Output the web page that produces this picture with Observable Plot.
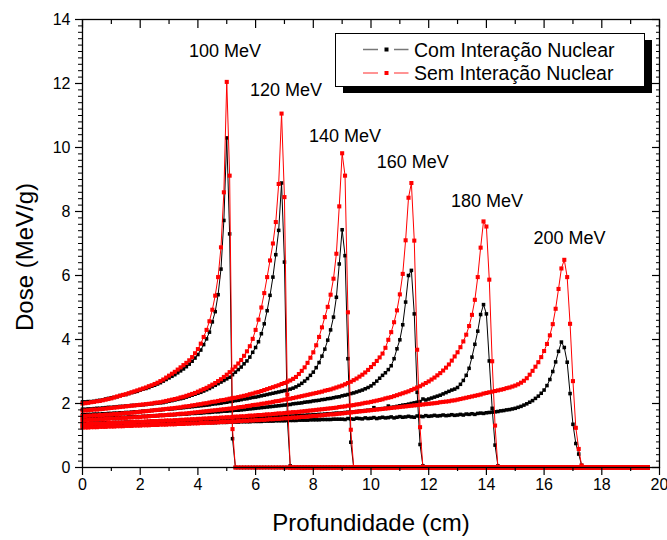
<!DOCTYPE html>
<html><head><meta charset="utf-8">
<script src="https://cdn.jsdelivr.net/npm/d3@7"></script>
<script src="https://cdn.jsdelivr.net/npm/@observablehq/plot@0.6"></script>
<style>
html,body{margin:0;padding:0;background:#fff;}
#chart{width:667px;height:540px;}
</style></head><body><div id="chart"></div>
<script>
// depth sampling of every series (cm)
const depthStep = 0.1;
const energyLabels = ["100 MeV","120 MeV","140 MeV","160 MeV","180 MeV","200 MeV"];
const labelDepth = [4.94, 7.05, 9.10, 11.45, 14.02, 16.88];
const labelDose  = [13.0, 11.79, 10.34, 9.55, 8.31, 7.15];
const xTicks = [0,2,4,6,8,10,12,14,16,18,20];
const yTicks = [0,2,4,6,8,10,12,14];

// "Sem Interação Nuclear" (red), dose MeV/g at depth = index*0.1 cm
const sem100 = [2.00,2.01,2.02,2.04,2.05,2.07,2.08,2.10,2.12,2.14,
2.16,2.19,2.22,2.24,2.27,2.29,2.32,2.35,2.38,2.41,
2.44,2.47,2.50,2.54,2.57,2.61,2.65,2.70,2.75,2.81,
2.87,2.93,2.99,3.06,3.13,3.20,3.27,3.35,3.45,3.57,
3.70,3.87,4.08,4.30,4.57,4.93,5.37,5.95,6.88,8.60,
12.05,9.12,1.20,0,
0,0,0,0,0,0,0,0,0,0, 0,0,0,0,0,0,0,0,0,0, 0,0,0,0,0,0,0,0,0,0, 0,0,0,0,0,0,0,0,0,0,
0,0,0,0,0,0,0,0,0,0, 0,0,0,0,0,0,0,0,0,0, 0,0,0,0,0,0,0,0,0,0, 0,0,0,0,0,0,0,0,0,0,
0,0,0,0,0,0,0,0,0,0, 0,0,0,0,0,0,0,0,0,0, 0,0,0,0,0,0,0,0,0,0, 0,0,0,0,0,0,0,0,0,0,
0,0,0,0,0,0,0,0,0,0, 0,0,0,0,0,0,0,0,0,0, 0,0,0];
const sem120 = [1.78,1.78,1.79,1.80,1.81,1.81,1.82,1.83,1.84,1.85,
1.86,1.87,1.88,1.89,1.90,1.91,1.92,1.93,1.94,1.95,
1.96,1.97,1.98,1.99,2.00,2.02,2.03,2.04,2.06,2.08,
2.10,2.12,2.14,2.16,2.19,2.21,2.24,2.27,2.30,2.33,
2.37,2.41,2.45,2.49,2.54,2.59,2.64,2.70,2.76,2.83,
2.90,2.98,3.06,3.15,3.25,3.36,3.49,3.63,3.79,4.02,
4.30,4.62,5.00,5.45,5.95,6.47,7.00,7.67,8.86,11.06,
8.45,2.28,0,
0,0,0,0,0,0,0,0,0,0, 0,0,0,0,0,0,0,0,0,0, 0,0,0,0,0,0,0,0,0,0, 0,0,0,0,0,0,0,0,0,0,
0,0,0,0,0,0,0,0,0,0, 0,0,0,0,0,0,0,0,0,0, 0,0,0,0,0,0,0,0,0,0, 0,0,0,0,0,0,0,0,0,0,
0,0,0,0,0,0,0,0,0,0, 0,0,0,0,0,0,0,0,0,0, 0,0,0,0,0,0,0,0,0,0, 0,0,0,0,0,0,0,0,0,0,
0,0,0,0];
const sem140 = [1.61,1.61,1.62,1.62,1.63,1.63,1.64,1.64,1.65,1.65,
1.66,1.67,1.67,1.68,1.69,1.70,1.70,1.71,1.72,1.73,
1.74,1.75,1.76,1.77,1.78,1.79,1.80,1.81,1.82,1.83,
1.84,1.85,1.86,1.87,1.88,1.90,1.91,1.92,1.94,1.95,
1.97,1.98,2.00,2.01,2.03,2.05,2.06,2.08,2.10,2.11,
2.13,2.15,2.17,2.18,2.20,2.22,2.24,2.26,2.29,2.31,
2.34,2.36,2.39,2.42,2.45,2.48,2.51,2.54,2.57,2.61,
2.64,2.68,2.72,2.77,2.83,2.92,3.02,3.13,3.27,3.43,
3.60,3.82,4.08,4.38,4.70,5.02,5.40,5.90,6.68,8.16,
9.82,9.12,4.85,1.18,0,
0,0,0,0,0,0,0,0,0,0, 0,0,0,0,0,0,0,0,0,0, 0,0,0,0,0,0,0,0,0,0, 0,0,0,0,0,0,0,0,0,0,
0,0,0,0,0,0,0,0,0,0, 0,0,0,0,0,0,0,0,0,0, 0,0,0,0,0,0,0,0,0,0, 0,0,0,0,0,0,0,0,0,0,
0,0,0,0,0,0,0,0,0,0, 0,0,0,0,0,0,0,0,0,0, 0,0];
const sem160 = [1.48,1.48,1.49,1.49,1.50,1.50,1.51,1.51,1.52,1.52,
1.53,1.53,1.54,1.54,1.55,1.55,1.56,1.56,1.57,1.57,
1.58,1.59,1.59,1.60,1.61,1.61,1.62,1.63,1.63,1.64,
1.65,1.65,1.66,1.67,1.68,1.68,1.69,1.70,1.71,1.72,
1.73,1.74,1.75,1.76,1.77,1.78,1.79,1.80,1.81,1.82,
1.83,1.84,1.85,1.86,1.88,1.89,1.90,1.92,1.93,1.95,
1.96,1.97,1.99,2.00,2.02,2.03,2.05,2.07,2.08,2.10,
2.12,2.14,2.15,2.17,2.19,2.21,2.23,2.25,2.27,2.29,
2.31,2.33,2.35,2.37,2.40,2.42,2.44,2.47,2.50,2.53,
2.56,2.60,2.64,2.68,2.73,2.78,2.84,2.90,2.97,3.05,
3.14,3.23,3.33,3.44,3.56,3.74,3.99,4.23,4.54,4.91,
5.41,6.05,7.10,8.43,8.89,7.09,3.68,1.26,0,
0,0,0,0,0,0,0,0,0,0, 0,0,0,0,0,0,0,0,0,0, 0,0,0,0,0,0,0,0,0,0, 0,0,0,0,0,0,0,0,0,0,
0,0,0,0,0,0,0,0,0,0, 0,0,0,0,0,0,0,0,0,0, 0,0,0,0,0,0,0,0,0,0, 0,0,0,0,0,0,0,0];
const sem180 = [1.35,1.35,1.36,1.36,1.37,1.37,1.37,1.38,1.38,1.39,
1.39,1.39,1.40,1.40,1.41,1.41,1.41,1.42,1.42,1.43,
1.43,1.43,1.44,1.44,1.45,1.45,1.45,1.46,1.46,1.47,
1.47,1.47,1.48,1.48,1.49,1.49,1.50,1.50,1.51,1.51,
1.52,1.52,1.53,1.53,1.54,1.54,1.55,1.55,1.56,1.56,
1.57,1.57,1.58,1.59,1.59,1.60,1.60,1.61,1.62,1.62,
1.63,1.64,1.64,1.65,1.66,1.66,1.67,1.68,1.69,1.69,
1.70,1.71,1.72,1.73,1.73,1.74,1.75,1.76,1.77,1.78,
1.79,1.80,1.81,1.82,1.83,1.84,1.85,1.86,1.87,1.89,
1.90,1.91,1.93,1.94,1.95,1.97,1.98,2.00,2.02,2.03,
2.05,2.07,2.09,2.11,2.13,2.16,2.18,2.20,2.23,2.26,
2.29,2.32,2.35,2.38,2.42,2.46,2.50,2.54,2.59,2.64,
2.69,2.75,2.81,2.88,2.95,3.03,3.12,3.22,3.34,3.47,
3.60,3.76,3.94,4.15,4.42,4.77,5.24,5.95,6.87,7.69,
7.53,5.87,3.32,1.31,0,
0,0,0,0,0,0,0,0,0,0, 0,0,0,0,0,0,0,0,0,0, 0,0,0,0,0,0,0,0,0,0, 0,0,0,0,0,0,0,0,0,0,
0,0,0,0,0,0,0,0,0,0, 0,0];
const sem200 = [1.25,1.25,1.25,1.26,1.26,1.26,1.27,1.27,1.27,1.28,
1.28,1.28,1.29,1.29,1.29,1.30,1.30,1.30,1.31,1.31,
1.31,1.32,1.32,1.32,1.33,1.33,1.33,1.34,1.34,1.34,
1.35,1.35,1.35,1.36,1.36,1.36,1.37,1.37,1.38,1.38,
1.38,1.39,1.39,1.40,1.40,1.40,1.41,1.41,1.42,1.42,
1.43,1.43,1.44,1.44,1.45,1.45,1.46,1.46,1.47,1.47,
1.48,1.48,1.49,1.49,1.50,1.51,1.51,1.52,1.52,1.53,
1.54,1.54,1.55,1.56,1.56,1.57,1.58,1.58,1.59,1.60,
1.61,1.61,1.62,1.63,1.64,1.65,1.66,1.66,1.67,1.68,
1.69,1.70,1.71,1.72,1.73,1.74,1.75,1.76,1.77,1.78,
1.79,1.80,1.81,1.82,1.83,1.84,1.85,1.86,1.87,1.88,
1.89,1.90,1.91,1.92,1.93,1.94,1.95,1.96,1.97,1.98,
1.99,2.00,2.01,2.02,2.04,2.05,2.06,2.07,2.09,2.10,
2.12,2.14,2.16,2.18,2.20,2.22,2.24,2.26,2.28,2.31,
2.33,2.35,2.37,2.39,2.41,2.43,2.45,2.48,2.50,2.53,
2.56,2.60,2.65,2.71,2.79,2.90,3.02,3.15,3.29,3.45,
3.64,3.86,4.13,4.48,4.96,5.58,6.22,6.49,5.95,4.49,
2.70,1.24,0.58,0.06,
0,0,0,0,0,0,0,0,0,0, 0,0,0,0,0,0,0,0,0,0, 0,0,0];

// "Com Interação Nuclear" (black)
const com100 = [2.05,2.05,2.06,2.06,2.07,2.09,2.10,2.11,2.14,2.16,
2.18,2.19,2.21,2.25,2.27,2.28,2.31,2.34,2.36,2.38,
2.42,2.45,2.47,2.50,2.54,2.57,2.61,2.65,2.70,2.75,
2.80,2.85,2.90,2.96,3.02,3.08,3.15,3.23,3.32,3.42,
3.53,3.67,3.84,4.02,4.23,4.55,4.87,5.40,6.20,7.72,
10.30,7.30,0.90,0,
0,0,0,0,0,0,0,0,0,0, 0,0,0,0,0,0,0,0,0,0, 0,0,0,0,0,0,0,0,0,0, 0,0,0,0,0,0,0,0,0,0,
0,0,0,0,0,0,0,0,0,0, 0,0,0,0,0,0,0,0,0,0, 0,0,0,0,0,0,0,0,0,0, 0,0,0,0,0,0,0,0,0,0,
0,0,0,0,0,0,0,0,0,0, 0,0,0,0,0,0,0,0,0,0, 0,0,0,0,0,0,0,0,0,0, 0,0,0,0,0,0,0,0,0,0,
0,0,0,0,0,0,0,0,0,0, 0,0,0,0,0,0,0,0,0,0, 0,0,0];
const com120 = [1.82,1.82,1.83,1.83,1.84,1.85,1.85,1.86,1.87,1.88,
1.88,1.89,1.90,1.91,1.91,1.92,1.93,1.94,1.94,1.95,
1.95,1.96,1.97,1.98,1.99,2.00,2.01,2.02,2.03,2.05,
2.07,2.09,2.11,2.13,2.15,2.17,2.20,2.23,2.26,2.29,
2.32,2.35,2.39,2.43,2.47,2.52,2.57,2.62,2.67,2.72,
2.77,2.82,2.90,2.98,3.06,3.14,3.24,3.33,3.45,3.60,
3.75,3.93,4.18,4.49,4.90,5.38,5.95,6.65,7.41,8.89,
6.42,1.50,0.05,
0,0,0,0,0,0,0,0,0,0, 0,0,0,0,0,0,0,0,0,0, 0,0,0,0,0,0,0,0,0,0, 0,0,0,0,0,0,0,0,0,0,
0,0,0,0,0,0,0,0,0,0, 0,0,0,0,0,0,0,0,0,0, 0,0,0,0,0,0,0,0,0,0, 0,0,0,0,0,0,0,0,0,0,
0,0,0,0,0,0,0,0,0,0, 0,0,0,0,0,0,0,0,0,0, 0,0,0,0,0,0,0,0,0,0, 0,0,0,0,0,0,0,0,0,0,
0,0,0,0];
const com140 = [1.65,1.65,1.66,1.66,1.67,1.67,1.67,1.68,1.68,1.69,
1.69,1.70,1.70,1.71,1.71,1.72,1.72,1.73,1.74,1.74,
1.75,1.76,1.76,1.77,1.78,1.79,1.79,1.80,1.81,1.82,
1.82,1.83,1.84,1.85,1.86,1.87,1.88,1.89,1.90,1.91,
1.92,1.93,1.94,1.95,1.96,1.98,1.99,2.00,2.01,2.03,
2.04,2.06,2.07,2.09,2.10,2.12,2.14,2.15,2.17,2.19,
2.20,2.22,2.24,2.26,2.28,2.30,2.32,2.34,2.36,2.38,
2.40,2.42,2.45,2.48,2.52,2.57,2.63,2.70,2.78,2.88,
2.98,3.12,3.28,3.48,3.70,3.98,4.30,4.70,5.32,6.36,
7.43,6.62,3.40,0.79,0,
0,0,0,0,0,0,0,0,0,0, 0,0,0,0,0,0,0,0,0,0, 0,0,0,0,0,0,0,0,0,0, 0,0,0,0,0,0,0,0,0,0,
0,0,0,0,0,0,0,0,0,0, 0,0,0,0,0,0,0,0,0,0, 0,0,0,0,0,0,0,0,0,0, 0,0,0,0,0,0,0,0,0,0,
0,0,0,0,0,0,0,0,0,0, 0,0,0,0,0,0,0,0,0,0, 0,0];
const com160 = [1.52,1.52,1.52,1.53,1.53,1.53,1.54,1.54,1.55,1.55,
1.55,1.56,1.56,1.57,1.57,1.57,1.58,1.58,1.59,1.59,
1.59,1.60,1.60,1.61,1.61,1.62,1.62,1.63,1.63,1.64,
1.64,1.65,1.65,1.66,1.66,1.67,1.67,1.68,1.69,1.69,
1.70,1.70,1.71,1.72,1.72,1.73,1.74,1.74,1.75,1.76,
1.76,1.77,1.78,1.79,1.79,1.80,1.81,1.82,1.83,1.84,
1.85,1.86,1.87,1.88,1.89,1.90,1.91,1.92,1.93,1.94,
1.95,1.96,1.97,1.99,2.00,2.01,2.02,2.04,2.05,2.06,
2.08,2.09,2.10,2.12,2.13,2.15,2.16,2.18,2.20,2.21,
2.24,2.26,2.28,2.31,2.33,2.36,2.39,2.42,2.46,2.50,
2.55,2.62,2.70,2.79,2.88,2.96,3.06,3.18,3.40,3.71,
3.99,4.46,5.17,6.00,6.16,4.80,2.35,0.72,0.05,
0,0,0,0,0,0,0,0,0,0, 0,0,0,0,0,0,0,0,0,0, 0,0,0,0,0,0,0,0,0,0, 0,0,0,0,0,0,0,0,0,0,
0,0,0,0,0,0,0,0,0,0, 0,0,0,0,0,0,0,0,0,0, 0,0,0,0,0,0,0,0,0,0, 0,0,0,0,0,0,0,0];
const com180 = [1.38,1.38,1.38,1.39,1.39,1.39,1.39,1.40,1.40,1.40,
1.40,1.41,1.41,1.41,1.41,1.42,1.42,1.42,1.42,1.43,
1.43,1.43,1.43,1.44,1.44,1.44,1.44,1.45,1.45,1.45,
1.45,1.46,1.46,1.46,1.47,1.47,1.47,1.47,1.48,1.48,
1.48,1.49,1.49,1.49,1.50,1.50,1.50,1.51,1.51,1.51,
1.52,1.52,1.52,1.53,1.53,1.53,1.54,1.54,1.55,1.55,
1.55,1.56,1.56,1.57,1.57,1.57,1.58,1.58,1.59,1.59,
1.60,1.60,1.61,1.61,1.62,1.62,1.63,1.63,1.64,1.64,
1.65,1.65,1.66,1.66,1.67,1.68,1.68,1.69,1.70,1.70,
1.71,1.72,1.73,1.73,1.74,1.75,1.76,1.77,1.78,1.79,
1.80,1.87,1.82,1.83,1.84,1.85,1.92,1.88,1.89,1.91,
1.93,1.95,1.96,1.98,2.00,2.02,2.04,2.06,2.14,2.11,
2.14,2.17,2.20,2.23,2.26,2.30,2.34,2.38,2.42,2.45,
2.50,2.60,2.72,2.88,3.10,3.45,3.85,4.26,4.78,5.09,
4.80,3.33,1.85,0.70,0.05,
0,0,0,0,0,0,0,0,0,0, 0,0,0,0,0,0,0,0,0,0, 0,0,0,0,0,0,0,0,0,0, 0,0,0,0,0,0,0,0,0,0,
0,0,0,0,0,0,0,0,0,0, 0,0];
const com200 = [1.28,1.28,1.29,1.29,1.29,1.30,1.30,1.30,1.31,1.31,
1.31,1.31,1.32,1.32,1.32,1.32,1.33,1.33,1.33,1.34,
1.34,1.34,1.34,1.35,1.35,1.35,1.35,1.36,1.36,1.36,
1.36,1.37,1.37,1.37,1.37,1.38,1.38,1.38,1.38,1.39,
1.39,1.39,1.39,1.40,1.40,1.40,1.40,1.41,1.41,1.41,
1.41,1.42,1.42,1.42,1.42,1.43,1.43,1.43,1.43,1.44,
1.44,1.44,1.44,1.45,1.45,1.45,1.45,1.46,1.46,1.46,
1.46,1.47,1.47,1.47,1.47,1.48,1.48,1.48,1.48,1.49,
1.49,1.49,1.49,1.50,1.50,1.50,1.50,1.51,1.51,1.51,
1.51,1.50,1.53,1.52,1.51,1.54,1.53,1.52,1.55,1.53,
1.54,1.56,1.53,1.55,1.57,1.55,1.56,1.58,1.55,1.57,
1.59,1.57,1.58,1.60,1.58,1.57,1.61,1.60,1.59,1.62,
1.60,1.61,1.63,1.61,1.62,1.64,1.62,1.63,1.65,1.63,
1.64,1.66,1.64,1.67,1.66,1.68,1.66,1.69,1.70,1.69,
1.71,1.72,1.73,1.74,1.75,1.77,1.78,1.80,1.81,1.83,
1.85,1.88,1.91,1.95,1.99,2.04,2.09,2.16,2.23,2.32,
2.42,2.56,2.75,3.00,3.30,3.63,3.92,3.75,3.29,2.31,
1.35,0.75,0.42,0.07,
0,0,0,0,0,0,0,0,0,0, 0,0,0,0,0,0,0,0,0,0, 0,0,0];

const semSeries = [sem100, sem120, sem140, sem160, sem180, sem200];
const comSeries = [com100, com120, com140, com160, com180, com200];

function toRows(seriesList) {
  const rows = [];
  seriesList.forEach((vals, k) => {
    vals.forEach((v, i) => rows.push({energy: energyLabels[k], depth: Math.round(i) * depthStep, dose: v}));
  });
  return rows;
}
const semRows = toRows(semSeries);
const comRows = toRows(comSeries);
const labelRows = energyLabels.map((t, k) => ({text: t, depth: labelDepth[k], dose: labelDose[k]}));

const yMinor = d3.range(0, 14.001, 0.2).map(v => +v.toFixed(1)).filter(v => Math.abs(v / 2 - Math.round(v / 2)) > 1e-6);
const xMinor = [1,3,5,7,9,11,13,15,17,19];
const blank = () => "";
const FONT = "'Liberation Sans', Arial, Helvetica, sans-serif";

const chart = Plot.plot({
  width: 667, height: 540,
  marginLeft: 82, marginRight: 8, marginTop: 19, marginBottom: 73,
  style: {fontFamily: FONT, fontSize: "16px", color: "#000", background: "#fff"},
  x: {domain: [0, 20], label: null},
  y: {domain: [0, 14], label: null},
  marks: [
    Plot.line(comRows, {x: "depth", y: "dose", z: "energy", stroke: "#000", strokeWidth: 1}),
    Plot.dot(comRows, {x: "depth", y: "dose", symbol: "square", r: 2.0, fill: "#000", stroke: "none"}),
    Plot.line(semRows, {x: "depth", y: "dose", z: "energy", stroke: "#ff0000", strokeWidth: 1}),
    Plot.dot(semRows, {x: "depth", y: "dose", symbol: "square", r: 2.3, fill: "#ff0000", stroke: "none"}),
    Plot.text(labelRows, {x: "depth", y: "dose", text: "text", fontSize: 18, fill: "#000", fontFamily: FONT}),
    Plot.frame({stroke: "#000", strokeWidth: 1.3}),
    Plot.axisX(xTicks, {anchor: "bottom", tickSize: 8, tickPadding: 3, fontSize: 16, label: null, stroke: "#000", strokeWidth: 1.2}),
    Plot.axisX(xMinor, {anchor: "bottom", tickSize: 4, tickFormat: blank, label: null, strokeWidth: 1.2}),
    Plot.axisX(xTicks, {anchor: "top", tickSize: 8, dy: 8, tickFormat: blank, label: null, strokeWidth: 1.2}),
    Plot.axisX(xMinor, {anchor: "top", tickSize: 4, dy: 4, tickFormat: blank, label: null, strokeWidth: 1.2}),
    Plot.axisY(yTicks, {anchor: "left", tickSize: 7, tickPadding: 5, fontSize: 16, label: null, strokeWidth: 1.2}),
    Plot.axisY(yMinor, {anchor: "left", tickSize: 4, tickFormat: blank, label: null, strokeWidth: 1}),
    Plot.axisY(yTicks, {anchor: "right", tickSize: 8, dx: -8, tickFormat: blank, label: null, strokeWidth: 1.2}),
    Plot.axisY(yMinor, {anchor: "right", tickSize: 4, dx: -4, tickFormat: blank, label: null, strokeWidth: 1})
  ]
});
document.getElementById("chart").appendChild(chart);

const svg = d3.select(chart);
// axis titles
svg.append("text").attr("x", 371).attr("y", 522).attr("text-anchor", "middle")
  .attr("dominant-baseline", "central").attr("font-size", 24).attr("font-family", FONT).attr("fill", "#000")
  .text("Profundidade (cm)");
svg.append("text").attr("transform", "translate(24,257) rotate(-90)").attr("text-anchor", "middle")
  .attr("dominant-baseline", "central").attr("font-size", 24).attr("font-family", FONT).attr("fill", "#000")
  .text("Dose (MeV/g)");

// legend
const lg = svg.append("g").attr("text-anchor", "start");
lg.append("rect").attr("x", 343).attr("y", 40).attr("width", 309).attr("height", 53).attr("fill", "#000");
lg.append("rect").attr("x", 335.5).attr("y", 33.5).attr("width", 309).attr("height", 53)
  .attr("fill", "#fff").attr("stroke", "#000").attr("stroke-width", 1);
const legendItems = [
  {text: "Com Interação Nuclear", line: "#777", mark: "#000", y: 49.5},
  {text: "Sem Interação Nuclear", line: "#ff7070", mark: "#ff0000", y: 73}
];
legendItems.forEach(it => {
  lg.append("line").attr("x1", 363).attr("x2", 378).attr("y1", it.y).attr("y2", it.y).attr("stroke", it.line).attr("stroke-width", 1.5);
  lg.append("line").attr("x1", 394).attr("x2", 408.5).attr("y1", it.y).attr("y2", it.y).attr("stroke", it.line).attr("stroke-width", 1.5);
  lg.append("rect").attr("x", 384.5).attr("y", it.y - 2).attr("width", 4).attr("height", 4).attr("fill", it.mark);
  lg.append("text").attr("x", 414).attr("y", it.y).attr("text-anchor", "start").attr("dominant-baseline", "central")
    .attr("font-size", 19.5).attr("font-family", FONT).attr("fill", "#000").text(it.text);
});
</script>
</body></html>
